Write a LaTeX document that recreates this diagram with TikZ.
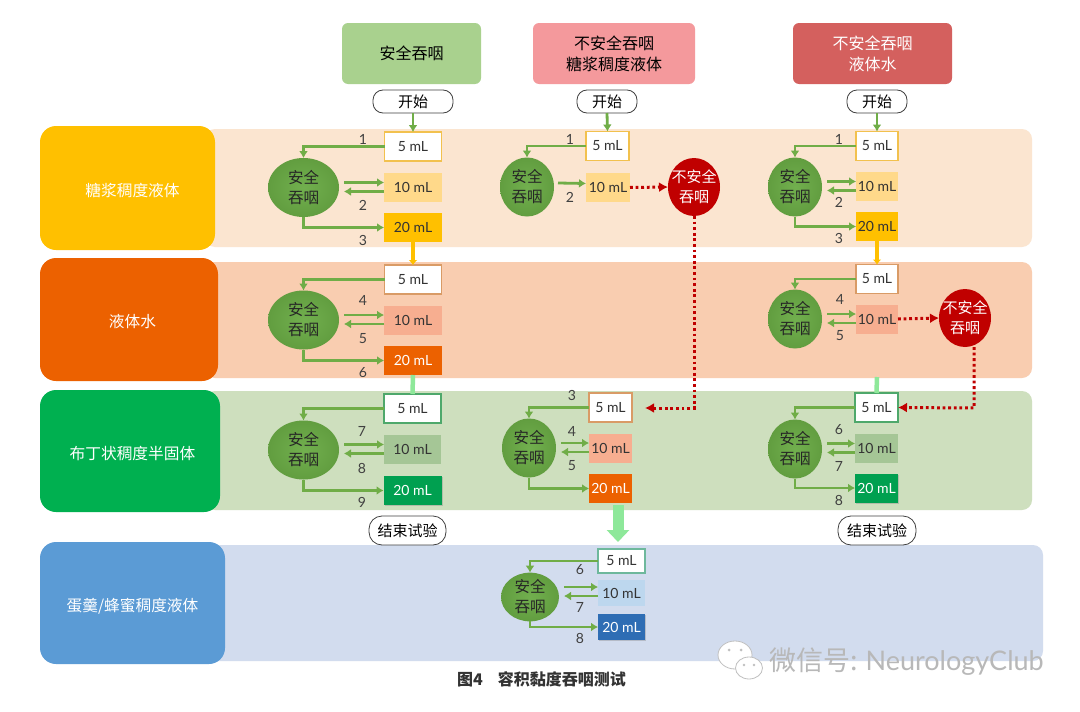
\documentclass[tikz,border=0pt]{standalone}
\usepackage{fontspec}
\setmainfont{Noto Sans CJK SC}
\newfontfamily\latinfont{Lato}
\usetikzlibrary{arrows.meta,shadows,shapes.geometric}

\definecolor{bandyellow}{HTML}{FBE5D0}
\definecolor{bandorange}{HTML}{F9CDB0}
\definecolor{bandgreen}{HTML}{CEDFBE}
\definecolor{bandblue}{HTML}{D2DCEE}
\definecolor{swallowgreen}{HTML}{6AAB45}
\definecolor{pathgreen}{HTML}{70AD47}
\definecolor{unsafered}{HTML}{C00000}
\definecolor{softorange}{HTML}{F7AE90}
\definecolor{softyellow}{HTML}{FFD98A}
\definecolor{softgreen}{HTML}{A5C696}
\definecolor{softblue}{HTML}{BDD7EE}
\definecolor{rimyellow}{HTML}{F2C14E}
\definecolor{rimorange}{HTML}{D99B66}
\definecolor{rimgreen}{HTML}{4EA86B}
\definecolor{rimteal}{HTML}{6EB89C}
\definecolor{fullyellow}{HTML}{FFC000}
\definecolor{fullorange}{HTML}{EC6100}
\definecolor{fullgreen}{HTML}{00A050}
\definecolor{fullblue}{HTML}{2E6DB4}
\definecolor{titlegreen}{HTML}{00B050}
\definecolor{titleblue}{HTML}{5B9BD5}
\definecolor{headgreen}{HTML}{A9D18E}
\definecolor{headpink}{HTML}{F4999C}
\definecolor{headred}{HTML}{D4605E}
\definecolor{palegreen}{HTML}{8EE89A}

\tikzset{
  every node/.style={inner sep=0pt, outer sep=0pt, align=center},
  band/.style={fill=#1, rounded corners=10pt},
  rowtitle/.style={fill=#1, rounded corners=16pt, text=white, text height=18pt, text depth=2pt, font=\fontsize{15.7}{18}\selectfont},
  header/.style={fill=#1, rounded corners=6pt, minimum height=61, font=\fontsize{16}{21}\selectfont},
  terminal/.style={draw=black!75, fill=white, rounded corners=10pt, line width=.8pt, font=\fontsize{15}{18}\selectfont},
  safe/.style={ellipse, inner color=swallowgreen!95!white, outer color=swallowgreen!92!black, text=black!85,
    minimum width=54, minimum height=59, font=\fontsize{15.5}{20}\selectfont},
  unsafe/.style={ellipse, fill=unsafered, text=white, inner xsep=-4.5pt, minimum width=52, minimum height=58, font=\fontsize{15}{20}\selectfont},
  volume/.style={minimum height=29, text=black!80, font=\latinfont\fontsize{14}{16}\selectfont},
  plainvol/.style={volume, draw=#1, fill=white, line width=1.5pt},
  softvol/.style={volume, fill=#1},
  fullvol/.style={volume, fill=#1, text=white},
  softshadow/.style={drop shadow={opacity=.35,shadow xshift=1pt,shadow yshift=-1pt}},
  stepnum/.style={text=black!75, font=\latinfont\fontsize{14}{16}\selectfont},
  trail/.style={draw=pathgreen, line width=2.8pt, -{Latex[length=7pt,width=9pt]}},
  redtrail/.style={draw=unsafered, line width=3pt, dash pattern=on 2.8pt off 2.8pt, -{Latex[length=9pt,width=10pt]}},
  hop/.style={draw=#1, line width=3.5pt, -{Latex[length=5pt,width=9pt]}},
  bridge/.style={draw=#1, line width=4.5pt}
}

% connectors of one trial: circle, 5 mL box, 10 mL box
\newcommand{\backtosafe}[2]{\draw[trail] (#2.west) -| (#1.north);}
\newcommand{\swapsafe}[3]{
  \coordinate (#1r) at (#2.west -| #1.east);
  \draw[trail] ([xshift=5pt,yshift=#3pt]#1r) -- ([yshift=#3pt]#2.west);
  \draw[trail] ([yshift=-9pt,yshift=#3pt]#2.west) -- ([xshift=5pt,yshift=-9pt,yshift=#3pt]#1r);}
\newcommand{\onsafe}[2]{\draw[trail] (#1.south) |- (#2.west);}

\begin{document}
\begin{tikzpicture}[x=1pt,y=-1pt]
  \useasboundingbox (0,0) rectangle (1080,712);
  \fill[white] (0,0) rectangle (1080,712);

  % bands
  \fill[band=bandyellow] (205,129) rectangle (1032,247);
  \fill[band=bandorange] (205,262) rectangle (1032,378);
  \fill[band=bandgreen]  (205,391) rectangle (1032,510);
  \fill[band=bandblue]   (205,545) rectangle (1043,661);

  \node[rowtitle=fullyellow, minimum width=175, minimum height=124] (rowa) at (127.5,188) {\hspace*{10pt}糖浆稠度液体};
  \node[rowtitle=fullorange, minimum width=178, minimum height=123] (rowb) at (129,319.5) {\hspace*{7pt}液体水};
  \node[rowtitle=titlegreen, minimum width=180, minimum height=122] (rowc) at (130,451) {\hspace*{5pt}布丁状稠度半固体};
  \node[rowtitle=titleblue, minimum width=185, minimum height=122] (rowd) at (132.5,603) {蛋羹/蜂蜜稠度液体};

  % headers
  \node[header=headgreen, minimum width=139] (heada) at (411.5,53.5) {安全吞咽};
  \node[header=headpink, minimum width=162] (headb) at (614,53.5) {不安全吞咽\\糖浆稠度液体};
  \node[header=headred, minimum width=159, text=white] (headc) at (872.5,53.5) {不安全吞咽\\液体水};

  \node[terminal, minimum width=80, minimum height=23] (starta) at (413,101.5) {开始};
  \node[terminal, minimum width=60, minimum height=23] (startb) at (607,101.5) {开始};
  \node[terminal, minimum width=60, minimum height=23] (startc) at (877,101.5) {开始};

  % column 1
  \node[safe, minimum width=71] (ca1) at (303.5,187.5) {安全\\吞咽};
  \node[plainvol=rimyellow, minimum width=57] (a15) at (413,146.5) {5 mL};
  \node[softvol=softyellow, minimum width=58] (a110) at (413,187.5) {10 mL};
  \node[fullvol=fullyellow, text=black!80, minimum width=58] (a120) at (413,227.5) {20 mL};
  \node[stepnum] (na11) at (363,139) {1};
  \node[stepnum] (na12) at (363,205) {2};
  \node[stepnum] (na13) at (363,240) {3};

  \node[safe, minimum width=71] (ca2) at (303.5,320) {安全\\吞咽};
  \node[plainvol=rimorange, minimum width=57] (a25) at (413,279.5) {5 mL};
  \node[softvol=softorange, minimum width=58] (a210) at (413,320) {10 mL};
  \node[fullvol=fullorange, minimum width=58] (a220) at (413,360.5) {20 mL};
  \node[stepnum] (na21) at (363,300) {4};
  \node[stepnum] (na22) at (363,339) {5};
  \node[stepnum] (na23) at (363,373) {6};

  \node[safe, minimum width=71] (ca3) at (303.5,450) {安全\\吞咽};
  \node[plainvol=rimgreen, minimum width=57] (a35) at (412.5,408.5) {5 mL};
  \node[softvol=softgreen, minimum width=57] (a310) at (412.5,449.5) {10 mL};
  \node[fullvol=fullgreen, minimum width=58, softshadow] (a320) at (412.5,490.5) {20 mL};
  \node[stepnum] (na31) at (362,431) {7};
  \node[stepnum] (na32) at (362,468) {8};
  \node[stepnum] (na33) at (362,502) {9};

  % column 2
  \node[safe] (cb1) at (527,187) {安全\\吞咽};
  \node[plainvol=rimyellow, minimum width=43] (b15) at (607.5,146) {5 mL};
  \node[softvol=softyellow, minimum width=44] (b110) at (608,187.5) {10 mL};
  \node[unsafe] (ub1) at (694,187) {不安全\\吞咽};
  \node[stepnum] (nb11) at (570,139) {1};
  \node[stepnum] (nb12) at (570,197) {2};

  \node[safe] (cb3) at (529,448) {安全\\吞咽};
  \node[plainvol=rimorange, minimum width=43] (b35) at (610.5,407.5) {5 mL};
  \node[softvol=softorange, minimum width=43] (b310) at (610.5,448) {10 mL};
  \node[fullvol=fullorange, minimum width=43] (b320) at (610.5,488.5) {20 mL};
  \node[stepnum] (nb31) at (572,395) {3};
  \node[stepnum] (nb32) at (572,431) {4};
  \node[stepnum] (nb33) at (572,466) {5};

  \node[safe, minimum width=58, minimum height=44] (cb4) at (530,597) {安全\\吞咽};
  \node[plainvol=rimteal, minimum width=47, minimum height=24] (b45) at (621.5,561) {5 mL};
  \node[softvol=softblue, minimum width=47, minimum height=26] (b410) at (621.5,593) {10 mL};
  \node[fullvol=fullblue, minimum width=47, minimum height=26, softshadow] (b420) at (621.5,627) {20 mL};
  \node[stepnum] (nb41) at (580,570) {6};
  \node[stepnum] (nb42) at (580,607) {7};
  \node[stepnum] (nb43) at (580,638) {8};

  % column 3
  \node[safe] (cc1) at (795,187) {安全\\吞咽};
  \node[plainvol=rimyellow, minimum width=42] (c15) at (877,146) {5 mL};
  \node[softvol=softyellow, minimum width=42] (c110) at (877,186.5) {10 mL};
  \node[fullvol=fullyellow, text=black!80, minimum width=42] (c120) at (877,226.5) {20 mL};
  \node[stepnum] (nc11) at (839,139) {1};
  \node[stepnum] (nc12) at (839,202) {2};
  \node[stepnum] (nc13) at (839,238) {3};

  \node[safe] (cc2) at (795,319) {安全\\吞咽};
  \node[plainvol=rimorange, minimum width=42] (c25) at (877,279) {5 mL};
  \node[softvol=softorange, minimum width=42] (c210) at (877,319) {10 mL};
  \node[unsafe] (uc2) at (965,318) {不安全\\吞咽};
  \node[stepnum] (nc21) at (840,299) {4};
  \node[stepnum] (nc22) at (840,336) {5};

  \node[safe] (cc3) at (795,449) {安全\\吞咽};
  \node[plainvol=rimgreen, minimum width=43] (c35) at (876.5,407.5) {5 mL};
  \node[softvol=softgreen, minimum width=43] (c310) at (876.5,448.5) {10 mL};
  \node[fullvol=fullgreen, minimum width=43, softshadow] (c320) at (876.5,488) {20 mL};
  \node[stepnum] (nc31) at (839,430) {6};
  \node[stepnum] (nc32) at (839,466) {7};
  \node[stepnum] (nc33) at (839,500) {8};

  \node[terminal, rounded corners=13pt, minimum width=77, minimum height=29] (enda) at (407.5,530.5) {结束试验};
  \node[terminal, rounded corners=13pt, minimum width=78, minimum height=29] (endc) at (877,530.5) {结束试验};

  % connectors
  \draw[trail] (starta.south) -- (a15.north);
  \draw[trail] (startb.south) -- (b15.north);
  \draw[trail] (startc.south) -- (c15.north);

  \backtosafe{ca1}{a15} \swapsafe{ca1}{a110}{5} \onsafe{ca1}{a120}
  \backtosafe{ca2}{a25} \swapsafe{ca2}{a210}{5} \onsafe{ca2}{a220}
  \backtosafe{ca3}{a35} \swapsafe{ca3}{a310}{5} \onsafe{ca3}{a320}
  \backtosafe{cb1}{b15}
  \draw[trail] ([xshift=4pt,yshift=4pt]cb1.east) -- ([yshift=4pt]b110.west);
  \backtosafe{cb3}{b35} \swapsafe{cb3}{b310}{5} \onsafe{cb3}{b320}
  \backtosafe{cb4}{b45} \swapsafe{cb4}{b410}{6} \onsafe{cb4}{b420}
  \backtosafe{cc1}{c15} \swapsafe{cc1}{c110}{5} \onsafe{cc1}{c120}
  \backtosafe{cc2}{c25} \swapsafe{cc2}{c210}{5}
  \backtosafe{cc3}{c35} \swapsafe{cc3}{c310}{5} \onsafe{cc3}{c320}

  \draw[hop=fullyellow] (a120.south) -- (a25.north);
  \draw[hop=fullyellow] (c120.south) -- (c25.north);
  \draw[bridge=palegreen] (a220.south) -- (a35.north);
  \coordinate (brc) at (877,377);
  \draw[bridge=palegreen] (brc) -- (c35.north);

  \coordinate (bigtop) at (618,505);
  \coordinate (bigtip) at (618,542);
  \draw[draw=palegreen, line width=11pt, -{Triangle[length=12pt,width=22pt]}] (bigtop) -- (bigtip);

  \coordinate (redb) at (645,408);
  \draw[redtrail] (b110.east) -- (ub1.west);
  \draw[redtrail] (ub1.south) |- (redb);
  \coordinate (redc) at (974,408);
  \draw[redtrail] (c210.east) -- (uc2.west);
  \draw[redtrail] ([xshift=9pt]uc2.south) -- (redc) -- (c35.east);

  \node[font=\bfseries\fontsize{16}{19}\selectfont, text=black!80] (caption) at (541.5,679) {图4\hspace{15pt}容积黏度吞咽测试};

  % watermark
  \draw[black!25, fill=white, line width=.8pt] (735,655) ellipse (17 and 14);
  \draw[black!25, fill=white, line width=.8pt] (749,668) ellipse (13.5 and 11);
  \fill[black!25] (729,650) circle (1.5) (741,650) circle (1.5) (744,665) circle (1.3) (754,665) circle (1.3);
  \node[text=black!28, font=\fontsize{27}{30}\selectfont, anchor=west] (mark) at (769,662) {微信号: \latinfont NeurologyClub};
\end{tikzpicture}
\end{document}
